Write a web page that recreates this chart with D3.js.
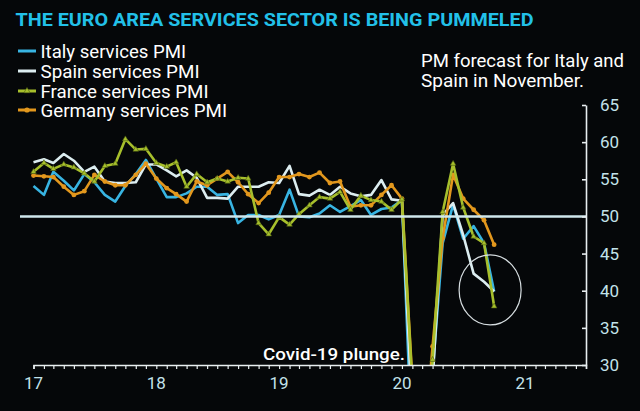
<!DOCTYPE html>
<html>
<head>
<meta charset="utf-8">
<script src="https://cdn.jsdelivr.net/npm/d3@7"></script>
<style>
  html, body { margin: 0; padding: 0; background: #050709; }
  svg { display: block; }
  text { font-family: Roboto, "Liberation Sans", sans-serif; }
</style>
</head>
<body>
<svg id="chart" width="640" height="411"></svg>
<script>
// ---- data (monthly survey readings, plotted from Jan 2017 position) ----
const startMonth = new Date(2017, 0, 1);
const endMonth = new Date(2020, 10, 1);
const italy = [54.1,52.9,56.0,54.8,53.5,55.7,54.6,52.9,52.0,54.1,55.7,57.6,55.1,52.6,52.6,53.1,54.0,54.0,52.9,53.0,49.1,50.2,50.2,49.6,50.2,53.6,50.0,49.9,50.4,51.5,50.6,51.4,52.2,50.2,51.0,51.2,52.2,17.4,10.8,28.9,46.4,51.6,47.0,48.7,46.4,39.9];
const spain = [57.3,57.7,57.2,58.4,57.5,56.0,56.7,54.7,54.5,54.5,54.6,57.0,57.0,56.2,55.4,56.2,55.2,52.5,52.5,52.4,54.0,54.0,54.0,54.6,54.5,56.8,53.0,52.8,53.6,52.9,54.0,53.1,52.7,52.9,54.9,52.3,52.1,23.0,7.1,27.9,50.2,51.8,47.5,42.3,41.2,39.9];
const france = [56.0,57.2,56.4,57.0,56.6,55.8,54.7,56.8,57.1,60.4,59.0,59.1,57.2,56.7,57.3,54.0,55.7,54.6,55.1,54.7,55.2,55.1,49.1,47.6,49.9,48.9,50.3,51.5,52.6,52.4,53.3,50.9,52.8,52.2,52.0,50.9,52.3,27.4,10.2,30.7,50.6,57.1,51.2,47.3,46.4,37.9];
const germany = [55.5,55.4,55.3,54.0,52.9,53.4,55.6,54.7,54.2,54.2,55.6,57.1,55.1,53.8,53.0,52.0,54.7,54.2,55.1,56.0,54.6,53.0,51.8,53.2,55.3,55.3,55.7,55.3,55.9,54.5,54.7,51.3,51.5,51.5,52.9,54.2,52.4,28.0,16.2,32.5,47.1,55.6,52.4,50.9,49.5,46.2];
const seriesNames = ["Italy services PMI", "Spain services PMI", "France services PMI", "Germany services PMI"];
const yTicks = [30, 35, 40, 45, 50, 55, 60, 65];
const xYears = [2017, 2018, 2019, 2020, 2021];
const threshold = 50;
const title = "THE EURO AREA SERVICES SECTOR IS BEING PUMMELED";
const noteLines = ["PM forecast for Italy and", "Spain in November."];
const plungeLabel = "Covid-19 plunge.";
const forecastCircle = { date: new Date(2020, 8, 19), value: 40.1 };

// ---- build ----
const months = d3.timeMonth.range(startMonth, endMonth);
const series = [
  { name: seriesNames[0], values: italy,   color: "#38b4e2", marker: null },
  { name: seriesNames[1], values: spain,   color: "#dcedf0", marker: null },
  { name: seriesNames[3], values: germany, color: "#e2971d", marker: "circle" },
  { name: seriesNames[2], values: france,  color: "#a7bf2c", marker: "triangle" }
];

const svg = d3.select("#chart");
const W = 640, H = 411;
const plot = { left: 33.5, right: 586, top: 105, bottom: 365 };

svg.append("rect").attr("width", W).attr("height", H).attr("fill", "#050709");

const x = d3.scaleTime()
  .domain([startMonth, new Date(2021, 6, 1)])
  .range([plot.left, plot.right]);
const y = d3.scaleLinear()
  .domain([30, 65])
  .range([plot.bottom, plot.top]);

svg.append("defs").append("clipPath").attr("id", "clip")
  .append("rect")
  .attr("x", 0).attr("y", plot.top - 10)
  .attr("width", plot.right).attr("height", plot.bottom - plot.top + 10);

// title
svg.append("text")
  .attr("x", 15.5).attr("y", 26)
  .attr("fill", "#22c0e8")
  .attr("font-size", 17.5).attr("font-weight", 700)
  .attr("textLength", 518).attr("lengthAdjust", "spacingAndGlyphs")
  .text(title);

// legend
const legendOrder = [
  { name: seriesNames[0], color: "#38b4e2", marker: null },
  { name: seriesNames[1], color: "#dcedf0", marker: null },
  { name: seriesNames[2], color: "#a7bf2c", marker: "triangle" },
  { name: seriesNames[3], color: "#e2971d", marker: "circle" }
];
const legendWidths = [145.5, 159, 168, 186.5];
const legendY = [51, 71, 91, 110];
legendOrder.forEach((s, i) => {
  const g = svg.append("g").attr("transform", `translate(0,${legendY[i]})`);
  g.append("line").attr("x1", 18).attr("x2", 36).attr("y1", 0).attr("y2", 0)
    .attr("stroke", s.color).attr("stroke-width", 3);
  if (s.marker === "circle") {
    g.append("circle").attr("cx", 27).attr("cy", 0).attr("r", 2.6).attr("fill", s.color);
  } else if (s.marker === "triangle") {
    g.append("path").attr("transform", "translate(27,0)")
      .attr("d", d3.symbol(d3.symbolTriangle, 16)())
      .attr("fill", s.color).attr("stroke", "#4a5a10").attr("stroke-width", 0.6);
  }
  g.append("text").attr("x", 40.5).attr("y", 6.5)
    .attr("fill", "#ffffff").attr("font-size", 18)
    .attr("textLength", legendWidths[i]).attr("lengthAdjust", "spacingAndGlyphs")
    .text(s.name);
});

// annotation
const noteWidths = [203, 163];
noteLines.forEach((t, i) => {
  svg.append("text").attr("x", 421).attr("y", 66.5 + i * 20)
    .attr("fill", "#ffffff").attr("font-size", 18)
    .attr("textLength", noteWidths[i]).attr("lengthAdjust", "spacingAndGlyphs")
    .text(t);
});

// lines
const line = d3.line()
  .x((d, i) => x(months[i]))
  .y(d => y(d));

const dataG = svg.append("g").attr("clip-path", "url(#clip)");
series.forEach(s => {
  dataG.append("path")
    .attr("d", line(s.values))
    .attr("fill", "none")
    .attr("stroke", s.color)
    .attr("stroke-width", 2.6)
    .attr("stroke-linejoin", "round");
  if (s.marker === "circle") {
    dataG.selectAll(null).data(s.values).enter().append("circle")
      .attr("cx", (d, i) => x(months[i])).attr("cy", d => y(d))
      .attr("r", 2.4).attr("fill", s.color);
  } else if (s.marker === "triangle") {
    dataG.selectAll(null).data(s.values).enter().append("path")
      .attr("transform", (d, i) => `translate(${x(months[i])},${y(d)})`)
      .attr("d", d3.symbol(d3.symbolTriangle, 14)())
      .attr("fill", s.color).attr("stroke", "#4a5a10").attr("stroke-width", 0.6);
  }
});

// 50 threshold line
svg.append("line")
  .attr("x1", 20).attr("x2", plot.right)
  .attr("y1", y(threshold)).attr("y2", y(threshold))
  .attr("stroke", "#cfe7ec").attr("stroke-width", 2.6);

// forecast circle
svg.append("ellipse")
  .attr("cx", x(forecastCircle.date)).attr("cy", y(forecastCircle.value))
  .attr("rx", 31).attr("ry", 35)
  .attr("fill", "none").attr("stroke", "#d6dde0").attr("stroke-width", 1.2);

// plunge label
svg.append("text").attr("x", 263).attr("y", 359.5)
  .attr("fill", "#ffffff").attr("font-size", 17).attr("font-weight", 500)
  .attr("textLength", 142).attr("lengthAdjust", "spacingAndGlyphs")
  .text(plungeLabel);

// x axis
const xAxisG = svg.append("g").attr("transform", `translate(0,${plot.bottom})`);
xAxisG.call(d3.axisBottom(x)
  .ticks(d3.timeMonth.every(1))
  .tickSize(4)
  .tickFormat(""));
xAxisG.select(".domain").attr("stroke", "#e8eef0").attr("stroke-width", 1.6);
xAxisG.selectAll(".tick line").attr("stroke", "#e8eef0").attr("stroke-width", 1.2);
xAxisG.selectAll(".tick text").remove();

const xLabG = svg.append("g");
xYears.forEach(yr => {
  xLabG.append("text")
    .attr("x", x(new Date(yr, 0, 1))).attr("y", 388.5)
    .attr("text-anchor", "middle")
    .attr("fill", "#c3e2ea").attr("font-size", 17)
    .text(String(yr).slice(2));
});

// y axis
const yAxisG = svg.append("g").attr("transform", `translate(${plot.right},0)`);
yAxisG.call(d3.axisLeft(y).tickValues(yTicks).tickSize(4).tickSizeOuter(0).tickFormat(""));
yAxisG.select(".domain").attr("stroke", "#e8eef0").attr("stroke-width", 1.6);
yAxisG.selectAll(".tick line").attr("stroke", "#e8eef0").attr("stroke-width", 1.6);
yTicks.forEach(v => {
  svg.append("text")
    .attr("x", 600).attr("y", y(v) + 6)
    .attr("fill", "#c3e2ea").attr("font-size", 17)
    .text(v);
});
</script>
</body>
</html>
